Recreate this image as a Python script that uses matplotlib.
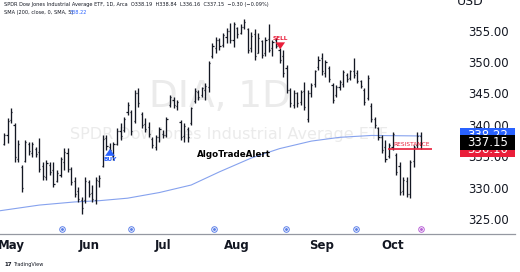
"""
DIA daily OHLC chart with SMA(200) and a few trade annotations
"""

import matplotlib
matplotlib.use("Agg")
import matplotlib.pyplot as plt
from matplotlib.patches import Rectangle
from matplotlib.lines import Line2D
from matplotlib.transforms import blended_transform_factory

# daily bars, end of April to mid October
highs = [338.7, 341.1, 342.7, 340.3, 337.6, 333.6, 337.6, 337.3, 337.3, 336.5,
         337.9, 334.0, 334.4, 334.1, 334.1, 332.8, 334.9, 336.3, 336.3, 333.2,
         331.6, 330.1, 328.5, 331.6, 331.2, 330.4, 331.6, 332.0, 338.4, 338.4,
         337.1, 337.3, 339.5, 340.3, 341.3, 343.7, 342.4, 345.6, 345.9, 342.1,
         341.1, 340.5, 338.1, 338.4, 339.7, 339.2, 341.3, 344.8, 344.5, 344.0,
         340.8, 340.3, 339.7, 342.9, 345.9, 345.6, 346.1, 346.7, 350.1, 353.1,
         354.0, 353.9, 354.7, 355.5, 356.3, 356.4, 355.6, 356.0, 356.8, 355.5,
         354.8, 355.2, 354.7, 353.6, 354.0, 356.0, 353.6, 353.9, 352.3, 352.0,
         349.6, 345.9, 345.6, 345.3, 345.6, 346.9, 345.6, 346.7, 348.8, 350.9,
         351.5, 350.4, 349.3, 346.7, 346.4, 347.2, 348.8, 348.3, 348.8, 350.7,
         348.8, 347.2, 345.9, 348.0, 343.5, 341.3, 339.7, 338.4, 337.6, 337.1,
         338.9, 335.5, 334.1, 331.7, 331.6, 334.4, 336.8, 338.9, 338.84]
lows = [336.8, 337.1, 340.3, 334.1, 334.0, 329.3, 334.0, 335.2, 334.9, 334.9,
        332.5, 331.2, 331.2, 332.0, 330.1, 330.8, 331.7, 332.8, 332.5, 330.4,
        328.5, 327.7, 325.7, 327.6, 328.5, 327.7, 327.3, 330.1, 333.2, 336.0,
        335.7, 334.4, 336.7, 337.6, 338.9, 341.6, 338.4, 340.3, 342.9, 339.5,
        338.9, 338.1, 336.3, 336.0, 337.3, 337.9, 338.1, 342.9, 342.7, 342.4,
        337.6, 337.3, 337.3, 340.0, 343.5, 344.0, 344.5, 344.0, 345.3, 350.7,
        351.5, 352.0, 352.4, 353.1, 353.1, 352.4, 353.9, 354.4, 355.2, 351.5,
        351.6, 350.4, 351.5, 350.7, 350.9, 351.6, 350.9, 352.3, 349.9, 347.7,
        345.1, 342.9, 342.7, 342.9, 343.2, 342.4, 340.5, 344.5, 346.1, 348.8,
        348.0, 347.7, 346.9, 343.5, 344.5, 345.6, 346.1, 346.9, 347.2, 347.5,
        346.7, 345.9, 343.2, 344.0, 340.5, 339.5, 337.6, 335.5, 334.0, 334.7,
        336.0, 332.0, 328.8, 328.8, 328.5, 328.4, 333.3, 336.3, 336.16]
opens = [337.0, 338.4, 340.8, 340.0, 334.5, 333.2, 334.3, 337.0, 335.5, 336.2,
         335.6, 333.5, 331.6, 333.6, 332.8, 331.0, 332.0, 334.0, 335.5, 333.0,
         331.0, 329.5, 328.0, 328.0, 330.8, 329.2, 328.0, 331.0, 333.5, 337.9,
         336.5, 335.0, 337.0, 339.0, 339.2, 342.0, 342.0, 340.6, 345.0, 341.8,
         340.2, 339.6, 337.8, 336.5, 338.0, 338.5, 338.4, 343.2, 344.0, 343.0,
         340.5, 338.2, 339.3, 340.3, 343.8, 345.2, 344.8, 345.5, 346.0, 351.0,
         352.3, 353.5, 352.8, 354.0, 355.0, 353.5, 355.4, 354.6, 355.6, 355.2,
         352.2, 354.5, 351.5, 353.4, 351.4, 353.7, 352.2, 353.5, 352.0, 351.0,
         349.0, 345.5, 343.2, 345.0, 343.7, 345.4, 341.0, 345.0, 346.5, 349.2,
         350.6, 348.3, 349.0, 346.4, 344.8, 346.0, 346.5, 348.0, 347.5, 348.6,
         348.2, 347.0, 345.6, 344.2, 343.0, 341.0, 339.5, 338.0, 336.5, 335.0,
         336.5, 335.2, 333.5, 329.5, 331.0, 329.0, 334.2, 336.8, 338.19]
closes = [338.4, 340.6, 342.0, 334.8, 337.0, 329.9, 337.2, 335.8, 336.9, 335.4,
          333.0, 331.8, 333.9, 332.4, 330.6, 332.3, 334.5, 335.6, 333.0, 330.9,
          329.0, 328.2, 326.8, 331.0, 329.0, 328.1, 331.2, 331.5, 337.8, 336.6,
          336.0, 337.0, 339.0, 338.2, 341.0, 343.2, 339.0, 345.0, 343.5, 340.0,
          339.4, 338.6, 336.7, 338.0, 339.3, 338.3, 341.0, 344.4, 343.2, 343.7,
          338.0, 339.8, 338.0, 342.6, 345.4, 344.5, 345.8, 346.2, 349.8, 352.6,
          353.5, 352.5, 354.3, 355.0, 353.6, 356.0, 354.4, 355.6, 356.4, 352.0,
          354.2, 351.0, 353.9, 351.2, 353.5, 352.0, 353.2, 352.6, 350.3, 348.2,
          345.6, 343.4, 345.0, 343.5, 345.2, 342.9, 345.0, 346.4, 348.5, 350.4,
          348.5, 350.0, 347.3, 344.0, 346.0, 346.9, 348.4, 347.3, 348.5, 348.0,
          347.0, 346.2, 343.6, 347.5, 341.0, 339.9, 338.0, 336.0, 334.5, 336.8,
          338.5, 332.5, 329.3, 331.2, 329.0, 334.0, 336.5, 338.2, 337.15]

# SMA(200) at some bar positions
sma_idx = [-1.1, 10, 20, 27, 35, 44, 53, 61, 70, 78, 87, 95, 104, 118]
sma_val = [326.3, 327.2, 327.7, 327.9, 328.3, 329.2, 330.4, 332.5, 334.7,
           336.2, 337.4, 338.0, 338.3, 338.22]

month_idx = [2, 24, 45, 66, 90, 110]
month_labels = ["May", "Jun", "Jul", "Aug", "Sep", "Oct"]
price_ticks = [325, 330, 335, 340, 345, 350, 355]

event_idx = [16.4, 35.9, 59.5, 79.9, 99.7, 118.1]

last_price = 337.15
sma_last = 338.22
resistance = 336.1
resistance_start = 108.8
buy_idx, buy_price = 30, 334.5
sell_idx, sell_price = 78.2, 353.7

BLUE = "#2962ff"
RED = "#e91e3a"
INK = "#131722"

fig = plt.figure(figsize=(5.2, 2.72), dpi=100)
ax = fig.add_axes([0, 0.14, 0.831, 0.86])
ax.set_xlim(-1.13, 121.2)
ax.set_ylim(322.6, 359.9)

for s in ax.spines.values():
    s.set_visible(False)

# watermark
ax.text(0.51, 0.585, "DIA, 1D", transform=ax.transAxes, ha="center", va="center",
        fontsize=27, color="#ebebeb", zorder=0)
ax.text(0.53, 0.423, "SPDR Dow Jones Industrial Average ETF", transform=ax.transAxes,
        ha="center", va="center", fontsize=11.5, color="#ebebeb", zorder=0)

# OHLC bars
idx = list(range(len(highs)))
ax.vlines(idx, lows, highs, color=INK, linewidth=0.95, zorder=3)
ax.hlines(opens, [i - 0.32 for i in idx], idx, color=INK, linewidth=0.9, zorder=3)
ax.hlines(closes, idx, [i + 0.32 for i in idx], color=INK, linewidth=0.9, zorder=3)

# SMA
ax.plot(sma_idx, sma_val, color="#86a2ee", linewidth=0.8, zorder=2)

# resistance
ax.hlines(resistance, resistance_start, 121.2, color=RED, linewidth=1.2, zorder=4,
          clip_on=False)
ax.text(115.3, resistance + 0.8, "RESISTANCE", color=RED, fontsize=4.2,
        ha="center", va="center", zorder=5)

# buy / sell signals
ax.annotate("", xy=(buy_idx, buy_price + 2.1), xytext=(buy_idx, buy_price + 0.7),
            arrowprops=dict(arrowstyle="simple,head_width=0.7,head_length=0.5,tail_width=0.35",
                            color=BLUE, lw=0), zorder=5)
ax.text(buy_idx, buy_price, "BUY", color=BLUE, fontsize=4.2, fontweight="bold",
        ha="center", va="center", zorder=5)
ax.text(sell_idx, sell_price, "SELL", color=RED, fontsize=4.2, fontweight="bold",
        ha="center", va="center", zorder=5)
ax.annotate("", xy=(sell_idx, sell_price - 2.1), xytext=(sell_idx, sell_price - 0.6),
            arrowprops=dict(arrowstyle="simple,head_width=0.7,head_length=0.5,tail_width=0.35",
                            color=RED, lw=0), zorder=5)

ax.text(65.2, 335.2, "AlgoTradeAlert", color="black", fontsize=6.3,
        fontweight="bold", ha="center", va="center", zorder=5)

# event markers on the time axis
ax.scatter(event_idx[:-1], [323.4] * (len(event_idx) - 1), s=16, facecolor="white",
           edgecolor="#5b7fe8", linewidth=0.7, zorder=6, clip_on=False)
ax.scatter(event_idx[:-1], [323.4] * (len(event_idx) - 1), s=1.2, color="#5b7fe8",
           zorder=7, clip_on=False)
ax.scatter(event_idx[-1:], [323.4], s=16, facecolor="white", edgecolor="#b85fd6",
           linewidth=0.7, zorder=6, clip_on=False)
ax.scatter(event_idx[-1:], [323.4], s=1.2, color="#b85fd6", zorder=7, clip_on=False)

# axes ticks
ax.set_xticks(month_idx)
ax.set_xticklabels(month_labels, fontsize=8.5, fontweight="bold", color=INK)
ax.tick_params(axis="x", length=0, pad=4)
ax.yaxis.tick_right()
ax.set_yticks(price_ticks)
ax.set_yticklabels([f"{p:.2f}" for p in price_ticks], fontsize=8.5, color=INK)
ax.tick_params(axis="y", length=0, pad=26)

# price labels on the right scale
tr = blended_transform_factory(ax.transAxes, ax.transData)
box_h = 2.4
for price, col, z in [(resistance, RED, 8), (sma_last, BLUE, 9), (last_price, "black", 10)]:
    ax.add_patch(Rectangle((1.065, price - box_h / 2), 0.127, box_h, transform=tr,
                           facecolor=col, edgecolor="none", clip_on=False, zorder=z))
    ax.text(1.128, price, f"{price:.2f}", transform=tr, ha="center", va="center",
            fontsize=8.5, color="white", clip_on=False, zorder=z)

# bottom axis line across full width
fig.add_artist(Line2D([0, 0.99], [0.14, 0.14], color="#9598a1", linewidth=0.9))

# header
fig.text(0.008, 0.982, "SPDR Dow Jones Industrial Average ETF, 1D, Arca  "
         "O338.19  H338.84  L336.16  C337.15  \u22120.30 (\u22120.09%)",
         fontsize=3.6, color=INK, va="center")
fig.text(0.008, 0.955, "SMA (200, close, 0, SMA, 5)", fontsize=3.6, color=INK, va="center")
fig.text(0.133, 0.955, "338.22", fontsize=3.6, color=BLUE, va="center")
fig.text(0.905, 0.993, "USD", fontsize=9, color=INK, ha="center", va="center")

# footer
fig.text(0.008, 0.027, "17", fontsize=4, fontweight="bold", color=INK, va="center")
fig.text(0.026, 0.027, "TradingView", fontsize=3.6, color=INK, va="center")

fig.savefig("out.png", dpi=100)
